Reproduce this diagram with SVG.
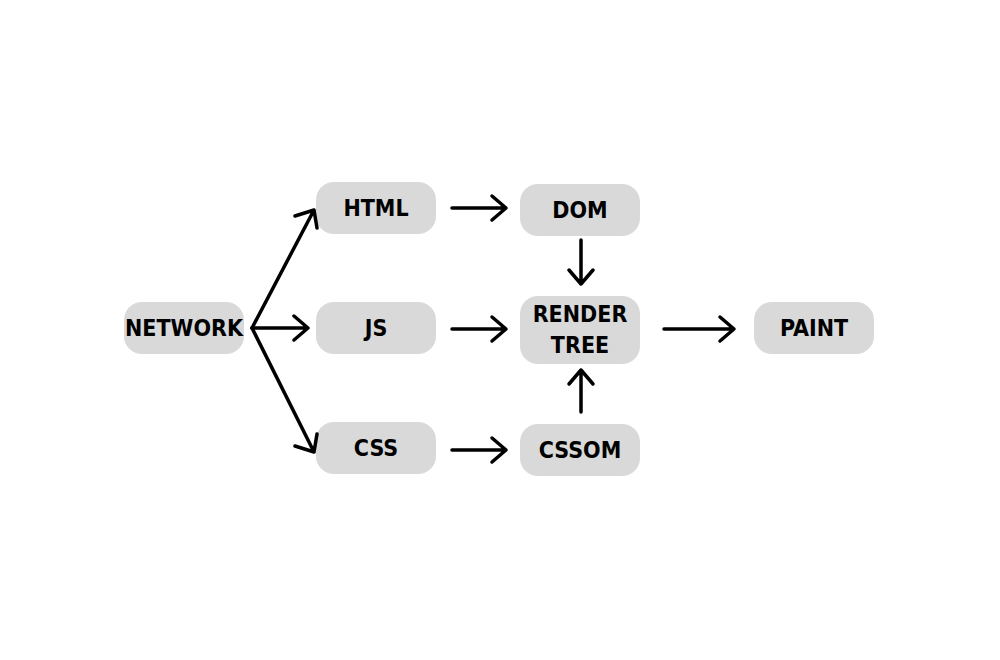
<svg xmlns="http://www.w3.org/2000/svg" width="1000" height="660" viewBox="0 0 1000 660">
<style>
.n rect{fill:#d9d9d9}
.n text{font-family:"DejaVu Sans Condensed","DejaVu Sans",sans-serif;font-weight:bold;font-size:23px;fill:#000;text-anchor:middle;dominant-baseline:central}
.c path{fill:none;stroke:#000;stroke-width:3.5;stroke-linecap:round;stroke-linejoin:round}
</style>
<rect width="1000" height="660" fill="#fff"/>
<g class="n" id="network"><rect x="124" y="302" width="120" height="52" rx="18"/><text x="184" y="328">NETWORK</text></g>
<g class="n" id="html"><rect x="316" y="182" width="120" height="52" rx="18"/><text x="376" y="208">HTML</text></g>
<g class="n" id="js"><rect x="316" y="302" width="120" height="52" rx="18"/><text x="376" y="328">JS</text></g>
<g class="n" id="css"><rect x="316" y="422" width="120" height="52" rx="18"/><text x="376" y="448">CSS</text></g>
<g class="n" id="dom"><rect x="520" y="184" width="120" height="52" rx="18"/><text x="580" y="210">DOM</text></g>
<g class="n" id="render"><rect x="520" y="296" width="120" height="68" rx="18"/><text x="580" y="314">RENDER</text><text x="580" y="345">TREE</text></g>
<g class="n" id="cssom"><rect x="520" y="424" width="120" height="52" rx="18"/><text x="580" y="450">CSSOM</text></g>
<g class="n" id="paint"><rect x="754" y="302" width="120" height="52" rx="18"/><text x="814" y="328">PAINT</text></g>
<g class="c" id="connectors">
<path d="M252 328 L314 210 M295 216 L314 210 L317 228"/>
<path d="M252 328 L308 328 M294 316 L308 328 L294 340"/>
<path d="M252 328 L314 452 M295 446 L314 452 L317 434"/>
<path d="M452 208 L506 208 M492 196 L506 208 L492 220"/>
<path d="M452 329 L506 329 M492 317 L506 329 L492 341"/>
<path d="M452 450 L506 450 M492 438 L506 450 L492 462"/>
<path d="M581 240 L581 284 M569 270 L581 284 L593 270"/>
<path d="M581 412 L581 370 M569 384 L581 370 L593 384"/>
<path d="M664 329 L734 329 M720 317 L734 329 L720 341"/>
</g>
</svg>
